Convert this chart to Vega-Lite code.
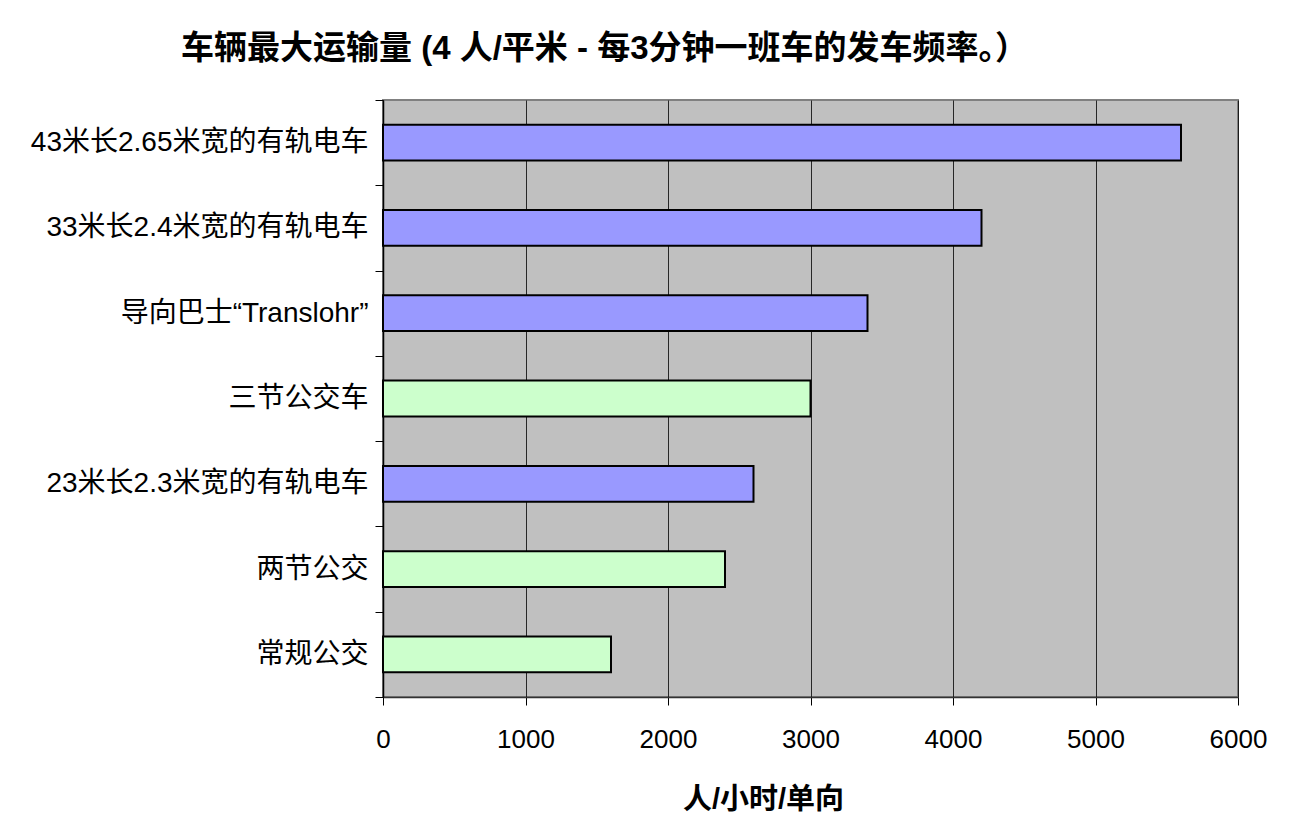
{
  "$schema": "https://vega.github.io/schema/vega-lite/v6.json",
  "autosize": {"type": "none"},
  "padding": {"left": 383, "top": 100, "right": 68, "bottom": 143},
  "width": 855,
  "height": 597,
  "background": "white",
  "title": {
    "text": "车辆最大运输量 (4 人/平米 - 每3分钟一班车的发车频率。）",
    "anchor": "middle",
    "frame": "group",
    "dx": -206,
    "offset": 20,
    "font": "Liberation Sans, Noto Sans CJK SC",
    "fontSize": 33,
    "fontWeight": "bold",
    "color": "#000000"
  },
  "data": {
    "values": [
      {"vehicle": "43米长2.65米宽的有轨电车", "capacity": 5600, "kind": "tram"},
      {"vehicle": "33米长2.4米宽的有轨电车", "capacity": 4200, "kind": "tram"},
      {"vehicle": "导向巴士“Translohr”", "capacity": 3400, "kind": "tram"},
      {"vehicle": "三节公交车", "capacity": 3000, "kind": "bus"},
      {"vehicle": "23米长2.3米宽的有轨电车", "capacity": 2600, "kind": "tram"},
      {"vehicle": "两节公交", "capacity": 2400, "kind": "bus"},
      {"vehicle": "常规公交", "capacity": 1600, "kind": "bus"}
    ]
  },
  "mark": {"type": "bar", "height": {"band": 0.42}, "stroke": "#000000", "strokeWidth": 2},
  "encoding": {
    "y": {
      "field": "vehicle",
      "type": "nominal",
      "sort": null,
      "scale": {"paddingInner": 0, "paddingOuter": 0},
      "axis": {
        "title": null,
        "tickBand": "extent",
        "tickSize": 8,
        "tickColor": "#000000",
        "domainColor": "#000000",
        "domainWidth": 1.5,
        "labelFont": "Liberation Sans, Noto Sans CJK SC",
        "labelFontSize": 28,
        "labelColor": "#000000",
        "labelPadding": 7,
        "labelLimit": 400,
        "grid": false
      }
    },
    "x": {
      "field": "capacity",
      "type": "quantitative",
      "scale": {"domain": [0, 6000], "nice": false},
      "axis": {
        "title": "人/小时/单向",
        "values": [0, 1000, 2000, 3000, 4000, 5000, 6000],
        "format": "d",
        "labelFlush": false,
        "tickSize": 8,
        "tickColor": "#000000",
        "domainColor": "#333333",
        "domainWidth": 1.5,
        "grid": true,
        "gridColor": "#000000",
        "gridWidth": 0.8,
        "labelFont": "Liberation Sans, Noto Sans CJK SC",
        "labelFontSize": 26,
        "labelColor": "#000000",
        "labelPadding": 21,
        "titleFont": "Liberation Sans, Noto Sans CJK SC",
        "titleFontSize": 29,
        "titleFontWeight": "bold",
        "titleColor": "#000000",
        "titleX": 380,
        "titleY": 111,
        "titleAlign": "center",
        "titleBaseline": "alphabetic"
      }
    },
    "color": {
      "field": "kind",
      "type": "nominal",
      "scale": {"domain": ["tram", "bus"], "range": ["#9999FF", "#CCFFCC"]},
      "legend": null
    }
  },
  "config": {
    "view": {"fill": "#C0C0C0", "stroke": "#808080", "strokeWidth": 2}
  }
}
